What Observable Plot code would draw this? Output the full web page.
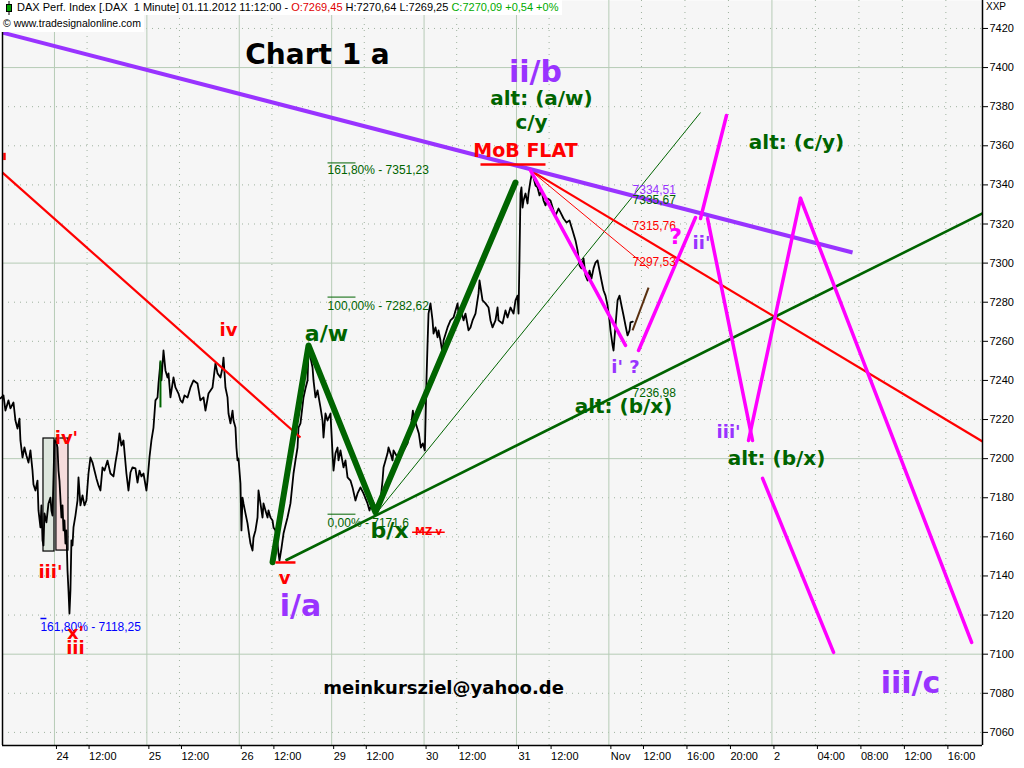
<!DOCTYPE html>
<html><head><meta charset="utf-8">
<script src="https://cdn.jsdelivr.net/npm/d3@7"></script>
<script src="https://cdn.jsdelivr.net/npm/@observablehq/plot@0.6"></script>
<style>
html,body{margin:0;padding:0;background:#fff;}
#wrap{position:relative;width:1024px;height:768px;overflow:hidden;font-family:"Liberation Sans",Arial,sans-serif;}
#chart{position:absolute;left:0;top:0;}
#hdr{position:absolute;left:0;top:0;height:15px;background:#fff;font-size:11px;line-height:15px;white-space:pre;padding-left:17px;padding-right:4px;color:#000;}
#ico{position:absolute;left:5px;top:1px;}
#copy{position:absolute;left:0;top:15px;height:17px;background:#fff;font-size:10.5px;line-height:17px;padding:0 3px 0 3px;white-space:pre;}
#xxp{position:absolute;left:986px;top:1px;font-size:10px;}
.r{color:#e00000}.g{color:#00aa00}
</style></head><body>
<div id="wrap">
<div id="chart"></div>
<div id="hdr"><svg id="ico" width="8" height="14"><line x1="4" y1="0" x2="4" y2="14" stroke="#000"/><rect x="1.5" y="3.5" width="5" height="7" fill="#00a000" stroke="#000"/></svg>DAX Perf. Index [.DAX  1 Minute] 01.11.2012 11:12:00 - <span class="r">O:7269,45</span> H:7270,64 L:7269,25 <span class="g">C:7270,09 +0,54 +0%</span></div>
<div id="copy">© www.tradesignalonline.com</div>
<div id="xxp">XXP</div>
</div>
<script>
// ---- price series: [trading-hour index t, price]; t=0 is 24 Oct 09:00, one session = 8.5 h, from 1 Nov on clock hours
const oct23 = [[-4.97,7230.8],[-4.69,7232.3],[-4.51,7224.6],[-4.23,7229.8],[-4.05,7225.7],[-3.77,7228.7],[-3.59,7219.5],[-3.40,7215.4],[-3.22,7220.5],[-3.13,7209.3],[-2.94,7200.6],[-2.76,7205.7],[-2.58,7201.6],[-2.39,7198.0],[-2.21,7204.2],[-2.02,7193.9],[-1.93,7186.8],[-1.75,7183.7],[-1.56,7188.8],[-1.47,7173.5],[-1.29,7164.8],[-1.20,7176.1],[-1.10,7158.2],[-1.01,7155.6],[-0.92,7172.0],[-0.74,7167.4],[-0.55,7177.1],[-0.37,7180.1],[-0.28,7173.5],[-0.18,7170.9]];
const oct24 = [[0.00,7209.3],[0.18,7208.3],[0.28,7205.7],[0.37,7193.9],[0.46,7188.8],[0.64,7169.9],[0.74,7176.1],[0.83,7163.3],[0.92,7168.4],[1.01,7156.6],[1.10,7163.3],[1.20,7142.8],[1.29,7132.6],[1.38,7120.8],[1.47,7132.6],[1.56,7158.2],[1.66,7155.6],[1.75,7164.8],[1.93,7170.9],[2.12,7178.6],[2.21,7190.4],[2.39,7176.1],[2.58,7181.2],[2.76,7176.1],[2.94,7178.6],[3.13,7192.4],[3.31,7200.6],[3.50,7198.0],[3.68,7193.9],[3.86,7189.9],[4.05,7186.3],[4.23,7183.7],[4.42,7195.5],[4.60,7193.9],[4.88,7199.0],[5.15,7192.4],[5.43,7190.9],[5.61,7198.0],[5.80,7204.2],[5.98,7212.9],[6.16,7206.7],[6.35,7209.3],[6.62,7192.4],[6.81,7183.7],[6.99,7192.9],[7.18,7195.5],[7.45,7195.0],[7.64,7187.8],[7.82,7193.9],[8.00,7190.9],[8.19,7192.4],[8.46,7183.7]];
const oct25 = [[8.56,7188.8],[8.74,7200.6],[8.92,7209.3],[9.11,7215.9],[9.29,7229.8],[9.48,7231.3],[9.57,7238.4],[9.75,7249.2],[9.84,7240.0],[10.03,7255.3],[10.21,7245.1],[10.40,7241.5],[10.49,7243.6],[10.67,7231.3],[10.86,7238.4],[10.95,7241.5],[11.13,7236.4],[11.41,7233.3],[11.59,7229.8],[11.78,7228.7],[11.96,7232.3],[12.24,7231.3],[12.51,7236.4],[12.79,7240.0],[13.16,7238.4],[13.42,7229.8],[13.71,7231.3],[13.89,7224.6],[14.17,7233.3],[14.54,7236.4],[14.81,7248.7],[15.00,7243.6],[15.27,7241.5],[15.46,7246.6],[15.55,7251.7],[15.73,7236.4],[15.92,7231.3],[16.01,7223.1],[16.19,7218.0],[16.38,7224.6],[16.47,7219.5],[16.65,7215.9],[16.74,7205.7],[16.84,7199.1],[16.93,7200.1]];
const oct26 = [[17.11,7187.3],[17.20,7163.3],[17.30,7180.1],[17.39,7177.1],[17.57,7172.0],[17.76,7166.9],[17.85,7163.3],[18.03,7156.6],[18.22,7153.0],[18.31,7159.7],[18.49,7163.3],[18.68,7169.9],[18.77,7183.7],[18.95,7177.1],[19.14,7169.9],[19.23,7177.1],[19.41,7173.5],[19.60,7169.9],[19.69,7173.5],[19.87,7169.9],[20.06,7168.4],[20.15,7164.8],[20.33,7163.3],[20.52,7156.6],[20.61,7151.5],[20.70,7147.9],[20.88,7154.1],[21.07,7161.7],[21.25,7165.8],[21.44,7169.9],[21.71,7177.1],[21.99,7192.4],[22.17,7199.1],[22.36,7205.7],[22.45,7215.9],[22.63,7218.0],[22.91,7231.3],[23.09,7235.9],[23.28,7240.0],[23.37,7255.3],[23.55,7251.7],[23.74,7246.6],[23.83,7240.0],[24.01,7231.3],[24.20,7234.9],[24.47,7226.2],[24.66,7219.5],[24.75,7210.8],[24.93,7223.1],[25.12,7219.5],[25.39,7223.1],[25.58,7202.7]];
const oct29 = [[25.67,7193.9],[25.85,7202.7],[26.04,7205.7],[26.13,7199.1],[26.31,7204.2],[26.59,7195.5],[26.77,7199.1],[26.96,7190.4],[27.23,7188.8],[27.42,7185.3],[27.69,7178.6],[27.88,7182.2],[28.15,7185.3],[28.43,7182.2],[28.80,7177.1],[28.98,7173.5],[29.26,7178.6],[29.53,7175.0],[29.72,7173.5],[29.99,7178.6],[30.18,7188.8],[30.27,7195.5],[30.64,7202.7],[30.73,7205.7],[30.91,7202.7],[31.10,7199.1],[31.19,7204.2],[31.56,7200.6],[31.83,7204.2],[32.11,7204.2],[32.48,7207.8],[32.78,7215.9],[32.97,7224.6],[33.06,7219.5],[33.24,7218.0],[33.52,7212.9],[33.70,7205.7],[33.89,7207.8],[34.07,7204.2]];
const oct30 = [[34.22,7240.0],[34.31,7256.8],[34.41,7274.2],[34.59,7279.4],[34.78,7270.7],[34.87,7264.0],[35.05,7267.1],[35.24,7262.0],[35.33,7265.6],[35.51,7260.4],[35.70,7253.8],[35.79,7260.4],[36.16,7267.1],[36.43,7270.7],[36.71,7272.2],[37.08,7279.4],[37.17,7274.2],[37.35,7277.3],[37.63,7270.7],[37.81,7274.2],[38.09,7265.6],[38.27,7267.1],[38.46,7270.7],[38.73,7274.2],[39.01,7284.5],[39.10,7291.1],[39.38,7280.9],[39.65,7279.4],[39.93,7277.3],[40.11,7270.7],[40.30,7267.1],[40.57,7270.7],[40.76,7277.3],[40.85,7270.7],[41.22,7269.1],[41.49,7275.8],[41.68,7272.2],[41.95,7277.3],[42.23,7274.2],[42.41,7280.9],[42.60,7283.4],[42.69,7274.2]];
const oct31 = [[42.78,7302.9],[42.87,7335.6],[42.96,7338.7],[43.06,7328.4],[43.15,7332.0],[43.33,7335.6],[43.52,7330.5],[43.61,7335.6],[43.79,7342.2],[43.98,7347.4],[44.07,7343.8],[44.25,7339.7],[44.44,7338.7],[44.62,7334.6],[44.80,7337.1],[44.99,7332.0],[45.17,7329.5],[45.36,7333.0],[45.63,7332.0],[45.91,7326.9],[46.09,7324.4],[46.37,7327.9],[46.55,7325.9],[46.83,7322.8],[47.10,7320.8],[47.38,7321.8],[47.66,7316.7],[47.93,7311.6],[48.12,7306.5],[48.30,7298.8],[48.48,7297.3],[48.67,7302.4],[48.85,7293.7],[49.04,7291.1],[49.22,7296.2],[49.40,7292.1],[49.59,7297.3],[49.77,7300.3],[49.96,7301.4],[50.14,7296.2],[50.32,7291.1],[50.51,7286.0],[50.69,7283.4],[50.88,7278.3]];
const nov01 = [[51.06,7270.7],[51.15,7265.6],[51.34,7257.9],[51.43,7255.3],[51.61,7268.1],[51.80,7280.9],[51.98,7283.4],[52.16,7278.3],[52.35,7273.2],[52.53,7268.1],[52.72,7263.0],[52.90,7265.6],[52.99,7269.7],[53.20,7270.1]];

// ---- axes
const yTicks = [7060,7080,7100,7120,7140,7160,7180,7200,7220,7240,7260,7280,7300,7320,7340,7360,7380,7400,7420];
const yGridSolid = [7100,7200,7300,7400];
const xTickT = [0,3,8.5,11.5,17,20,25.5,28.5,34,37,42.5,45.5,51,54,58,62,66,70,74,78,82];
const xTickLabels = ["24","12:00","25","12:00","26","12:00","29","12:00","30","12:00","31","12:00","Nov","12:00","16:00","20:00","2","04:00","08:00","12:00","16:00"];
const xGridSolid = [0,8.5,17,25.5,34,42.5,51,66];

// ---- drawn analysis lines [t1,p1,t2,p2]
const purpleTrend = [[-4.78,7417.9,73.42,7305.4]];
const redTrends = [[-4.78,7346.3,22.63,7210.8],[43.79,7347.4,85.37,7208.8]];
const redThin = [[43.79,7347.4,54.68,7297.3]];
const greenThin = [[29.53,7171.5,59.43,7377.0]];
const greenTrend = [[21.25,7147.9,85.37,7325.4]];
const greenWave = [[20.06,7147.0],[23.37,7257.9],[29.53,7172.5],[42.41,7341.2]];
const magentaLines = [[43.79,7347.4,52.53,7257.9],[53.73,7255.3,58.97,7323.3],[59.43,7322.8,61.82,7375.5],[60.08,7322.8,64.21,7209.3],[63.85,7209.3,68.63,7333.1],[68.63,7333.1,84.37,7106.0],[65.14,7189.9,71.67,7100.9]];
const brownLine = [[53.18,7265.6,54.65,7287.5]];
const greenMark = [[9.75,7250.2,9.75,7226.2]];
const redMarks = [[20.33,7146.9,22.17,7146.9],[39.19,7350.4,45.17,7350.4],[-4.6,7356.4,-4.6,7352.7]];
const mzStrike = [[32.9,7162.4,35.9,7162.4]];
const fibGreen = [[25.12,7351.23,27.69,7351.23],[25.12,7282.62,27.69,7282.62],[25.12,7171.6,27.69,7171.6]];
const fibBlue = [[-1.29,7118.25,-0.74,7118.25]];
const boxGreen = [[-1.01,7210.3,0.0,7152.5]];
const boxPink = [[0.18,7210.3,1.29,7153.0]];

// ---- labels [t, price, text]
const purpleBig = [[44.25,7397.5,"ii/b"],[22.63,7124.4,"i/a"],[78.75,7085.0,"iii/c"]];
const purpleSmall = [[52.53,7246.6,"i' ?"],[59.52,7310.0,"ii'"],[62.01,7213.4,"iii'"]];
const greenAlt = [[44.80,7384.2,"alt: (a/w)"],[43.88,7371.9,"c/y"],[52.35,7226.7,"alt: (b/x)"],[66.42,7200.1,"alt: (b/x)"],[68.26,7361.7,"alt: (c/y)"]];
const greenBig = [[25.02,7264.0,"a/w"],[30.82,7162.8,"b/x"]];
const redLabels = [[16.01,7265.6,"iv"],[21.16,7138.7,"v"],[1.10,7210.3,"iv'"],[-0.37,7141.8,"iii'"],[1.93,7110.6,"x'"],[1.93,7102.9,"iii"]];
const mobLabel = [[43.33,7357.6,"MoB FLAT"]];
const mzLabel = [[34.41,7162.8,"MZ v"]];
const qLabel = [[57.13,7313.6,"?"]];
const titleLabel = [[24.20,7406.2,"Chart 1 a"]];
const mailLabel = [[35.79,7082.5,"meinkursziel@yahoo.de"]];
const fibGreenText = [[25.12,7347.4,"161,80% - 7351,23"],[25.12,7277.8,"100,00% - 7282,62"],[25.12,7166.9,"0,00% - 7171,6"]];
const fibBlueText = [[-1.29,7113.7,"161,80% - 7118,25"]];
const fanText = [[53.18,7337.1,"7334,51","#9933ff"],[53.18,7332.0,"7335,67","#006400"],[53.18,7318.7,"7315,76","#ff0000"],[53.18,7300.3,"7297,53","#ff0000"],[53.18,7233.3,"7236,98","#006400"]];

const PURPLE="#9933ff", GREEN="#006400", RED="#ff0000", MAG="#ff00ff";
const BOLD="DejaVu Sans, Verdana, sans-serif";
const seg = (data, stroke, w, extra={}) => Plot.link(data, {x1:d=>d[0], y1:d=>d[1], x2:d=>d[2], y2:d=>d[3], stroke, strokeWidth:w, ...extra});
const lbl = (data, opts) => Plot.text(data, {x:d=>d[0], y:d=>d[1], text:d=>d[2], ...opts});
const price = [...oct23, ...oct24, ...oct25, ...oct26, ...oct29, ...oct30, ...oct31, ...nov01];
const xLab = new Map(xTickT.map((t,i)=>[t, xTickLabels[i]]));
const xMin=-4.78, xMax=85.37, yMin=7053.3, yMax=7434.3;

const chart = Plot.plot({
  width:1024, height:768, marginTop:0, marginBottom:23, marginLeft:2, marginRight:42,
  x:{domain:[xMin,xMax]}, y:{domain:[yMin,yMax]},
  style:{background:"transparent", fontFamily:"Liberation Sans, Arial, sans-serif", fontSize:"11px", color:"#000"},
  marks:[
    Plot.frame({fill:"#f6f6f6", stroke:null}),
    Plot.ruleY(yTicks.filter(v=>!yGridSolid.includes(v)), {stroke:"#9fb29f", strokeDasharray:"1,5"}),
    Plot.ruleX(xTickT.filter(v=>!xGridSolid.includes(v)), {stroke:"#9fb29f", strokeDasharray:"1,5"}),
    Plot.ruleY(yGridSolid, {stroke:"#b6cbb6"}),
    Plot.ruleX(xGridSolid, {stroke:"#b6cbb6"}),
    Plot.rect(boxGreen, {x1:d=>d[0], y1:d=>d[1], x2:d=>d[2], y2:d=>d[3], fill:"#dde6dd", stroke:"#000", strokeWidth:1.2}),
    Plot.rect(boxPink, {x1:d=>d[0], y1:d=>d[1], x2:d=>d[2], y2:d=>d[3], fill:"#f6dcdc", stroke:"#000", strokeWidth:1.2}),
    seg(fibGreen, GREEN, 1),
    seg(fibBlue, "#0000ff", 1.5),
    lbl(fibGreenText, {fill:GREEN, fontSize:12, textAnchor:"start"}),
    lbl(fibBlueText, {fill:"#0000ff", fontSize:12, textAnchor:"start"}),
    seg(greenThin, GREEN, 1),
    seg(redThin, RED, 1),
    Plot.line(price, {x:d=>d[0], y:d=>d[1], stroke:"#000", strokeWidth:1.8}),
    seg(greenMark, GREEN, 2),
    seg(redTrends, RED, 2.2),
    seg(purpleTrend, PURPLE, 4),
    seg(greenTrend, GREEN, 2.6),
    Plot.line(greenWave, {x:d=>d[0], y:d=>d[1], stroke:GREEN, strokeWidth:6, strokeLinejoin:"round", strokeLinecap:"round"}),
    seg(magentaLines, MAG, 3.5, {strokeLinecap:"round"}),
    seg(brownLine, "#5a3010", 2),
    seg(redMarks, RED, 2.5),
    lbl(fanText, {fill:d=>d[3], fontSize:12, textAnchor:"start"}),
    lbl(purpleBig, {fill:PURPLE, fontSize:30, fontWeight:"bold", fontFamily:BOLD}),
    lbl(purpleSmall, {fill:PURPLE, fontSize:18, fontWeight:"bold", fontFamily:BOLD}),
    lbl(greenAlt, {fill:GREEN, fontSize:20, fontWeight:"bold", fontFamily:BOLD}),
    lbl(greenBig, {fill:GREEN, fontSize:22, fontWeight:"bold", fontFamily:BOLD}),
    lbl(redLabels, {fill:RED, fontSize:18, fontWeight:"bold", fontFamily:BOLD}),
    lbl(mobLabel, {fill:RED, fontSize:19, fontWeight:"bold", fontFamily:BOLD}),
    lbl(mzLabel, {fill:RED, fontSize:10, fontWeight:"bold", fontFamily:BOLD}),
    seg(mzStrike, RED, 1.5),
    lbl(qLabel, {fill:MAG, fontSize:22, fontWeight:"bold", fontFamily:BOLD}),
    lbl(titleLabel, {fill:"#000", fontSize:28, fontWeight:"bold", fontFamily:BOLD}),
    lbl(mailLabel, {fill:"#000", fontSize:18, fontWeight:"bold", fontFamily:BOLD}),
    Plot.ruleX([xMin], {stroke:"#000", strokeWidth:1.5}),
    Plot.ruleX([xMax], {stroke:"#000", strokeWidth:1.5}),
    Plot.ruleY([yMin], {stroke:"#000", strokeWidth:1.5}),
    Plot.axisY({anchor:"right", ticks:yTicks, tickSize:5, tickPadding:2, tickFormat:d=>String(d), label:null, fontSize:11}),
    Plot.axisX({ticks:xTickT, tickFormat:d=>xLab.get(d), textAnchor:"start", tickSize:4, tickPadding:3, dx:2, label:null, fontSize:11})
  ]
});
document.getElementById("chart").appendChild(chart);
</script>
</body></html>
